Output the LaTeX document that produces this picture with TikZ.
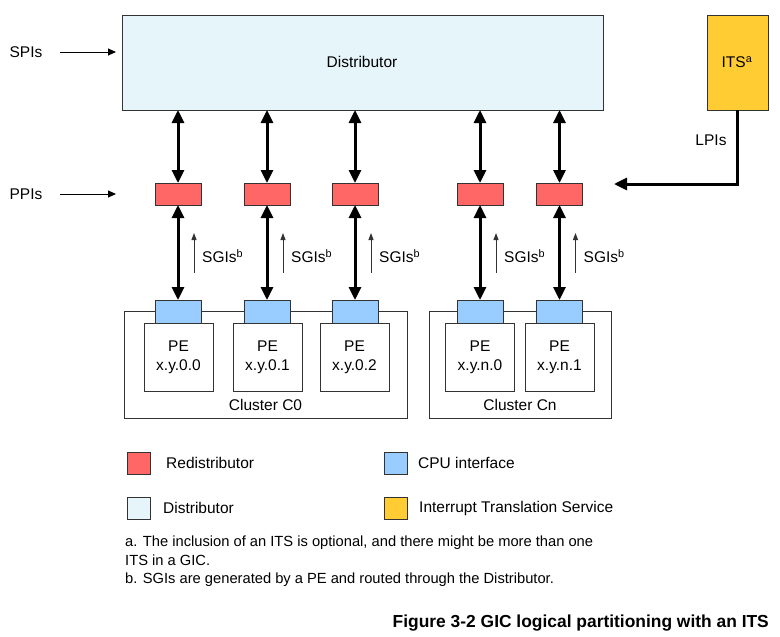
\documentclass[tikz,border=0pt]{standalone}
\usepackage{fontspec}
\setmainfont{Liberation Sans}
\usetikzlibrary{arrows.meta}
\definecolor{distfill}{HTML}{E6F5F9}
\definecolor{redfill}{HTML}{FF6666}
\definecolor{cpufill}{HTML}{99CCFF}
\definecolor{itsfill}{HTML}{FFCC33}
\definecolor{edge}{HTML}{333333}
\tikzset{
  box/.style={draw=edge, line width=1pt, inner sep=0pt, outer sep=0pt},
  distbox/.style={box, fill=distfill, minimum width=481pt, minimum height=95pt},
  itsbox/.style={box, fill=itsfill, minimum width=61pt, minimum height=95pt},
  redbox/.style={box, fill=redfill, minimum width=46pt, minimum height=22pt},
  cpubox/.style={box, fill=cpufill, minimum width=46pt, minimum height=23pt},
  pebox/.style={box, fill=white, minimum width=69pt, minimum height=68pt, align=center, font=\fontsize{15.5}{19}\selectfont},
  clusterbox/.style={draw=edge, line width=1pt},
  legsq/.style={box, minimum width=23pt, minimum height=22pt},
  lbl/.style={inner sep=0pt, font=\fontsize{15.5}{19}\selectfont},
  bigarrow/.style={line width=3pt, {Triangle[length=13pt,width=12pt]}-{Triangle[length=13pt,width=12pt]}},
  lpiarrow/.style={line width=3pt, -{Triangle[length=13pt,width=12pt]}},
  inarrow/.style={line width=1pt, -{Triangle[length=8pt,width=7pt]}},
  sgiarrow/.style={line width=1pt, draw=edge, -{Triangle[length=7pt,width=5pt]}},
}
\begin{document}
\begin{tikzpicture}[x=1pt, y=-1pt]
\useasboundingbox (0,0) rectangle (780,637);
\fill[white] (0,0) rectangle (780,637);

% Distributor and ITS
\node[distbox] (D) at (362.5,62.5) {};
\node[lbl] at (362,62) {Distributor};
\node[itsbox] (ITS) at (737.5,62.5) {};
\node[lbl] at (737,62) {ITS\textsuperscript{a}};

% clusters
\draw[clusterbox] (124,311) rectangle (407,418);
\draw[clusterbox] (429,311) rectangle (611,418);
\node[lbl] (c0) at (265.5,405) {Cluster C0};
\node[lbl] (cn) at (520,405) {Cluster Cn};

% PEs
\node[pebox] (P1) at (178.5,357) {PE\\x.y.0.0};
\node[pebox] (P2) at (267.5,357) {PE\\x.y.0.1};
\node[pebox] (P3) at (354.5,357) {PE\\x.y.0.2};
\node[pebox] (P4) at (480,357) {PE\\x.y.n.0};
\node[pebox] (P5) at (559.5,357) {PE\\x.y.n.1};

% Redistributors
\node[redbox] (R1) at (178,194) {};
\node[redbox] (R2) at (267,194) {};
\node[redbox] (R3) at (355,194) {};
\node[redbox] (R4) at (480,194) {};
\node[redbox] (R5) at (559.5,194) {};

% CPU interfaces
\node[cpubox] (C1) at (178,311.5) {};
\node[cpubox] (C2) at (267,311.5) {};
\node[cpubox] (C3) at (355,311.5) {};
\node[cpubox] (C4) at (480,311.5) {};
\node[cpubox] (C5) at (559.5,311.5) {};

% big arrows
\foreach \i in {1,...,5}{
  \draw[bigarrow] (R\i |- D.south) -- (R\i.north);
  \draw[bigarrow] (R\i.south) -- (C\i.north);
}

% SGIs
\foreach \i/\x in {1/194,2/283,3/371,4/496,5/575.5}{
  \coordinate (sa\i) at (\x,273);
  \coordinate (sb\i) at (\x,233);
  \draw[sgiarrow] (sa\i) -- (sb\i);
  \node[lbl, anchor=west] (sl\i) at (\x+8,256) {SGIs\textsuperscript{b}};
}

% SPIs / PPIs
\node[lbl] (spi) at (26,52) {SPIs};
\coordinate (spia) at (60,52);
\coordinate (spib) at (116,52);
\draw[inarrow] (spia) -- (spib);
\node[lbl] (ppi) at (26,194) {PPIs};
\coordinate (ppia) at (60,194);
\coordinate (ppib) at (116,194);
\draw[inarrow] (ppia) -- (ppib);

% LPIs
\coordinate (lpiend) at (614,184);
\draw[lpiarrow] (ITS.south) |- (lpiend);
\node[lbl] (lpi) at (711,140) {LPIs};

% legend
\node[legsq, fill=redfill] (L1) at (138.5,463) {};
\node[lbl, anchor=west] at (166,463) {Redistributor};
\node[legsq, fill=cpufill] (L2) at (395.5,463) {};
\node[lbl, anchor=west] at (418,463) {CPU interface};
\node[legsq, fill=distfill] (L3) at (138.5,508) {};
\node[lbl, anchor=west] at (163,508) {Distributor};
\node[legsq, fill=itsfill] (L4) at (395.5,508) {};
\node[lbl, anchor=west] at (419,508) {Interrupt Translation Service};

% footnotes
\node[lbl, anchor=west, align=left, font=\fontsize{14.7}{18.5}\selectfont] (fn) at (125,561.5) {a. The inclusion of an ITS is optional, and there might be more than one\\ITS in a GIC.\\b. SGIs are generated by a PE and routed through the Distributor.};

% caption
\node[lbl, anchor=east, font=\fontsize{17.4}{20}\selectfont\bfseries] (cap) at (769,623) {Figure 3-2 GIC logical partitioning with an ITS};
\end{tikzpicture}
\end{document}
